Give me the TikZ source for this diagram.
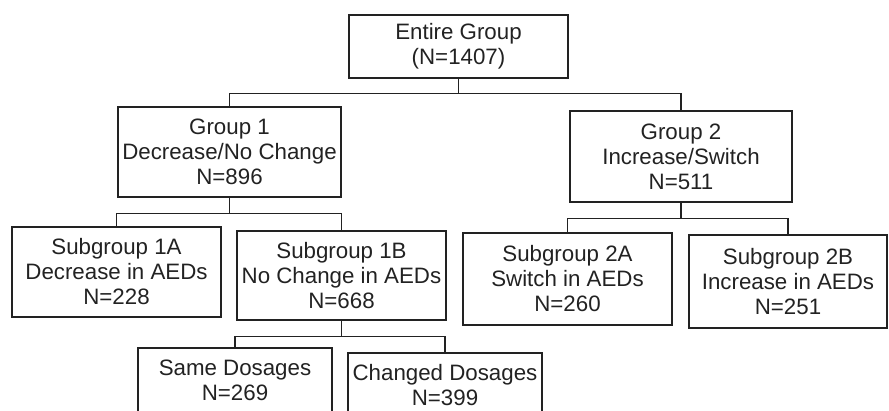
\documentclass[tikz,border=0pt]{standalone}
\usepackage{fontspec}
\setmainfont{Liberation Sans}
\usetikzlibrary{calc}
\definecolor{ink}{HTML}{222222}
\begin{document}
\begin{tikzpicture}[x=1pt,y=-1pt,
  box/.style={draw=ink, line width=1.2pt, rectangle, inner sep=0pt, align=center,
    text=ink, font=\fontsize{22.3}{25}\selectfont},
  link/.style={draw=ink, line width=1.2pt}]
\useasboundingbox (0,0) rectangle (889,410);
\clip (0,0) rectangle (889,410);
\node[box, minimum width=219pt, minimum height=63pt] (top) at (458.5,46.5) {Entire Group\\(N=1407)};
\node[box, minimum width=223pt, minimum height=90pt] (g1) at (229.5,152) {Group 1\\Decrease/No Change\\N=896};
\node[box, minimum width=222pt, minimum height=91pt] (g2) at (681,156.5) {Group 2\\Increase/Switch\\N=511};
\node[box, minimum width=209pt, minimum height=90pt] (s1a) at (116.5,272) {Subgroup 1A\\Decrease in AEDs\\N=228};
\node[box, minimum width=209pt, minimum height=89pt] (s1b) at (341.5,275.5) {Subgroup 1B\\No Change in AEDs\\N=668};
\node[box, minimum width=209pt, minimum height=92pt] (s2a) at (567.5,279) {Subgroup 2A\\Switch in AEDs\\N=260};
\node[box, minimum width=198pt, minimum height=93pt] (s2b) at (788,281.5) {Subgroup 2B\\Increase in AEDs\\N=251};
\node[box, minimum width=194pt, minimum height=64pt] (sd) at (235,380) {Same Dosages\\N=269};
\node[box, minimum width=194pt, minimum height=64pt] (cd) at (445,385) {Changed Dosages\\N=399};
\coordinate (b0) at ($(top.south)+(0,15)$);
\coordinate (b1) at ($(g1.south)+(0,16)$);
\coordinate (b2) at ($(g2.south)+(0,16)$);
\coordinate (b3) at ($(s1b.south)+(0,16)$);
\draw[link] (top.south) -- (b0);
\draw[link] (g1.north) |- (b0) -| (g2.north);
\draw[link] (g1.south) -- (b1);
\draw[link] (s1a.north) |- (b1) -| (s1b.north);
\draw[link] (g2.south) -- (b2);
\draw[link] (s2a.north) |- (b2) -| (s2b.north);
\draw[link] (s1b.south) -- (b3);
\draw[link] (sd.north) |- (b3) -| (cd.north);
\end{tikzpicture}
\end{document}
